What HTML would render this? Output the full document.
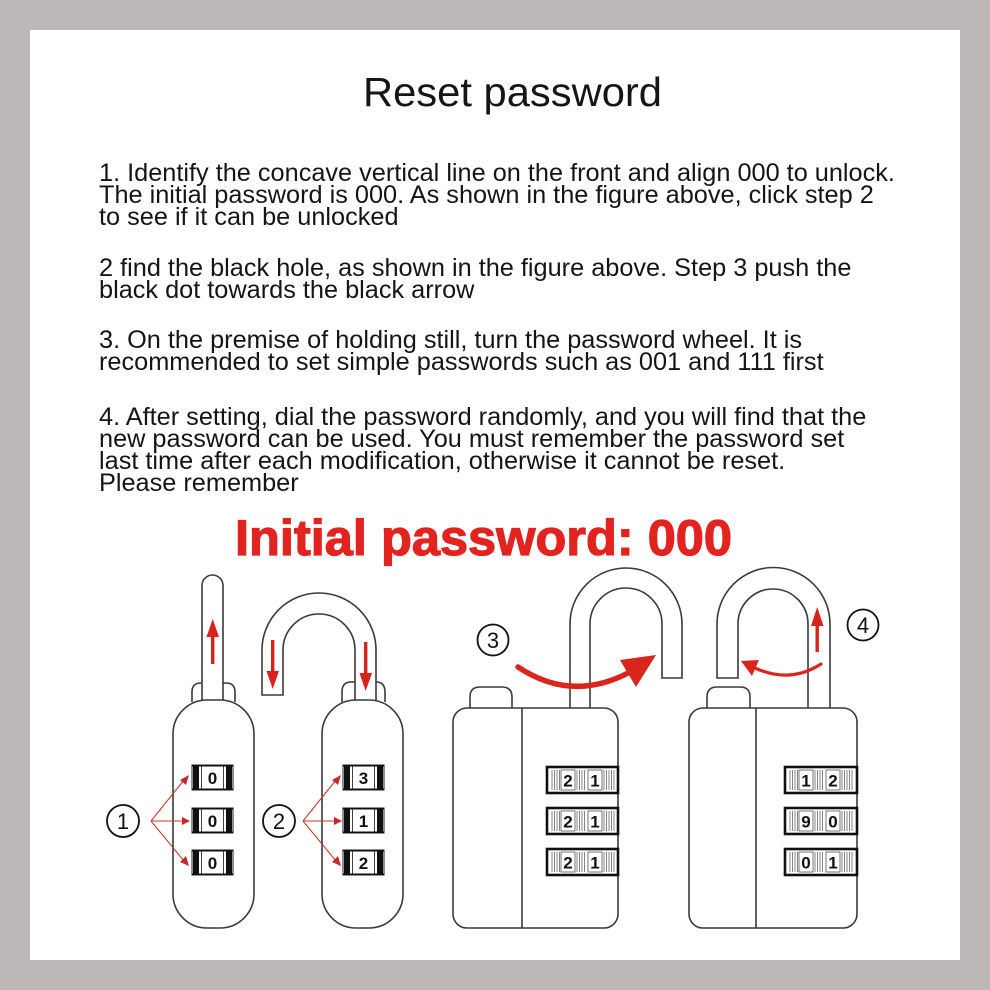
<!DOCTYPE html>
<html>
<head>
<meta charset="utf-8">
<style>
  html,body{margin:0;padding:0;background:#bcb8b7;}
  svg{display:block;}
  .t{font-family:"Liberation Sans",Arial,sans-serif;fill:#151515;}
</style>
</head>
<body>
<svg width="990" height="990" viewBox="0 0 990 990" xmlns="http://www.w3.org/2000/svg">
  <rect x="0" y="0" width="990" height="990" fill="#bcb8b7"/>
  <rect x="30" y="30" width="930" height="930" fill="#ffffff"/>

  <!-- Title -->
  <text class="t" x="363" y="106" font-size="41" textLength="299" lengthAdjust="spacingAndGlyphs">Reset password</text>

  <!-- Paragraphs -->
  <g class="t" font-size="25.3">
    <text class="t" x="99" y="181">1. Identify the concave vertical line on the front and align 000 to unlock.</text>
    <text class="t" x="99" y="203">The initial password is 000. As shown in the figure above, click step 2</text>
    <text class="t" x="99" y="225">to see if it can be unlocked</text>
    <text class="t" x="99" y="276">2 find the black hole, as shown in the figure above. Step 3 push the</text>
    <text class="t" x="99" y="298">black dot towards the black arrow</text>
    <text class="t" x="99" y="348">3. On the premise of holding still, turn the password wheel. It is</text>
    <text class="t" x="99" y="370">recommended to set simple passwords such as 001 and 111 first</text>
    <text class="t" x="99" y="425">4. After setting, dial the password randomly, and you will find that the</text>
    <text class="t" x="99" y="447">new password can be used. You must remember the password set</text>
    <text class="t" x="99" y="469">last time after each modification, otherwise it cannot be reset.</text>
    <text class="t" x="99" y="491">Please remember</text>
  </g>

  <!-- Red headline -->
  <text x="235" y="555" font-family="'Liberation Sans',Arial,sans-serif" font-weight="bold" font-size="50" fill="#e3231f" stroke="#e3231f" stroke-width="1.2" textLength="497" lengthAdjust="spacingAndGlyphs">Initial password: 000</text>

  <!-- ================= LOCK 1 ================= -->
  <g stroke="#3a3a3a" stroke-width="1.6" fill="#fff">
    <path d="M192,702 L192,692 Q192,683 201,683 L226,683 Q235,683 235,692 L235,702"/>
    <path d="M202,703 L202,585.5 A10.5,10.5 0 0 1 223,585.5 L223,703"/>
    <rect x="173" y="700" width="81" height="228" rx="34" ry="34"/>
  </g>
  <rect x="211" y="636" width="3.4" height="28" fill="#d8221c"/>
  <polygon points="212.7,619 206.5,637 219,637" fill="#d8221c"/>

  <!-- ================= LOCK 2 ================= -->
  <g stroke="#3a3a3a" stroke-width="1.6" fill="#fff">
    <path d="M342,702 L342,692 Q342,682 351,682 L376,682 Q385,682 385,692 L385,702"/>
    <path d="M355,703 L355,650 A36,36 0 0 0 283,650 L283,695 L262,695 L262,650 A57,57 0 0 1 376,650 L376,703"/>
    <rect x="322" y="700" width="81" height="228" rx="34" ry="34"/>
  </g>
  <rect x="271" y="640" width="3.4" height="32" fill="#d8221c"/>
  <polygon points="272.7,689 266.5,671 279,671" fill="#d8221c"/>
  <rect x="364" y="642" width="3.4" height="32" fill="#d8221c"/>
  <polygon points="365.7,691 359.5,673 372,673" fill="#d8221c"/>

  <!-- single-digit dials -->
  <g font-family="'Liberation Sans',Arial,sans-serif" font-weight="bold" font-size="17" text-anchor="middle" fill="#111">
    <g transform="translate(192,765)">
      <rect x="0" y="0" width="41" height="25" fill="#fff" stroke="#222" stroke-width="1"/>
      <rect x="1" y="0" width="6" height="25" fill="#111"/><rect x="34" y="0" width="6" height="25" fill="#111"/>
      <line x1="9.5" y1="0" x2="9.5" y2="25" stroke="#444"/><line x1="31.5" y1="0" x2="31.5" y2="25" stroke="#444"/>
      <rect x="0" y="0" width="41" height="1.5" fill="#111"/><rect x="0" y="23.5" width="41" height="1.5" fill="#111"/>
      <text x="20.5" y="19">0</text>
    </g>
    <g transform="translate(192,808)">
      <rect x="0" y="0" width="41" height="25" fill="#fff" stroke="#222" stroke-width="1"/>
      <rect x="1" y="0" width="6" height="25" fill="#111"/><rect x="34" y="0" width="6" height="25" fill="#111"/>
      <line x1="9.5" y1="0" x2="9.5" y2="25" stroke="#444"/><line x1="31.5" y1="0" x2="31.5" y2="25" stroke="#444"/>
      <rect x="0" y="0" width="41" height="1.5" fill="#111"/><rect x="0" y="23.5" width="41" height="1.5" fill="#111"/>
      <text x="20.5" y="19">0</text>
    </g>
    <g transform="translate(192,850)">
      <rect x="0" y="0" width="41" height="25" fill="#fff" stroke="#222" stroke-width="1"/>
      <rect x="1" y="0" width="6" height="25" fill="#111"/><rect x="34" y="0" width="6" height="25" fill="#111"/>
      <line x1="9.5" y1="0" x2="9.5" y2="25" stroke="#444"/><line x1="31.5" y1="0" x2="31.5" y2="25" stroke="#444"/>
      <rect x="0" y="0" width="41" height="1.5" fill="#111"/><rect x="0" y="23.5" width="41" height="1.5" fill="#111"/>
      <text x="20.5" y="19">0</text>
    </g>
    <g transform="translate(343,765)">
      <rect x="0" y="0" width="41" height="25" fill="#fff" stroke="#222" stroke-width="1"/>
      <rect x="1" y="0" width="6" height="25" fill="#111"/><rect x="34" y="0" width="6" height="25" fill="#111"/>
      <line x1="9.5" y1="0" x2="9.5" y2="25" stroke="#444"/><line x1="31.5" y1="0" x2="31.5" y2="25" stroke="#444"/>
      <rect x="0" y="0" width="41" height="1.5" fill="#111"/><rect x="0" y="23.5" width="41" height="1.5" fill="#111"/>
      <text x="20.5" y="19">3</text>
    </g>
    <g transform="translate(343,808)">
      <rect x="0" y="0" width="41" height="25" fill="#fff" stroke="#222" stroke-width="1"/>
      <rect x="1" y="0" width="6" height="25" fill="#111"/><rect x="34" y="0" width="6" height="25" fill="#111"/>
      <line x1="9.5" y1="0" x2="9.5" y2="25" stroke="#444"/><line x1="31.5" y1="0" x2="31.5" y2="25" stroke="#444"/>
      <rect x="0" y="0" width="41" height="1.5" fill="#111"/><rect x="0" y="23.5" width="41" height="1.5" fill="#111"/>
      <text x="20.5" y="19">1</text>
    </g>
    <g transform="translate(343,850)">
      <rect x="0" y="0" width="41" height="25" fill="#fff" stroke="#222" stroke-width="1"/>
      <rect x="1" y="0" width="6" height="25" fill="#111"/><rect x="34" y="0" width="6" height="25" fill="#111"/>
      <line x1="9.5" y1="0" x2="9.5" y2="25" stroke="#444"/><line x1="31.5" y1="0" x2="31.5" y2="25" stroke="#444"/>
      <rect x="0" y="0" width="41" height="1.5" fill="#111"/><rect x="0" y="23.5" width="41" height="1.5" fill="#111"/>
      <text x="20.5" y="19">2</text>
    </g>
  </g>

  <!-- fan arrows -->
  <g stroke="#c0392b" stroke-width="1" fill="none">
    <line x1="151" y1="821" x2="184" y2="780"/>
    <line x1="151" y1="821" x2="183" y2="821"/>
    <line x1="151" y1="821" x2="184" y2="861"/>
    <line x1="303" y1="821" x2="336" y2="780"/>
    <line x1="303" y1="821" x2="335" y2="821"/>
    <line x1="303" y1="821" x2="336" y2="861"/>
  </g>
  <g fill="#c62828">
    <polygon points="189,775 180,780 186,785"/>
    <polygon points="190,821 182,817 182,825"/>
    <polygon points="189,866 186,856 180,862"/>
    <polygon points="341,775 332,780 338,785"/>
    <polygon points="342,821 334,817 334,825"/>
    <polygon points="341,866 338,856 332,862"/>
  </g>

  <!-- circled numbers -->
  <g stroke="#111" stroke-width="1.8" fill="none">
    <circle cx="123" cy="821" r="16"/>
    <circle cx="279" cy="821" r="16"/>
    <circle cx="493" cy="640" r="15.5"/>
    <circle cx="863" cy="625" r="15.5"/>
  </g>
  <g font-family="'Liberation Sans',Arial,sans-serif" font-size="22" text-anchor="middle" fill="#111">
    <text x="123" y="829">1</text>
    <text x="279" y="829">2</text>
    <text x="493" y="648">3</text>
    <text x="863" y="633">4</text>
  </g>

  <!-- ================= LOCK 3 ================= -->
  <g stroke="#3a3a3a" stroke-width="1.6" fill="#fff">
    <path d="M470,709 L470,697 Q470,687 480,687 L502,687 Q512,687 512,697 L512,709"/>
    <path d="M570,709 L570,624 A56,56 0 0 1 682,624 L682,678 L662,678 L662,624 A36,36 0 0 0 590,624 L590,709"/>
    <rect x="453" y="708" width="165" height="220" rx="14" ry="14"/>
    <line x1="522" y1="708" x2="522" y2="928"/>
  </g>

  <!-- ================= LOCK 4 ================= -->
  <g stroke="#3a3a3a" stroke-width="1.6" fill="#fff">
    <path d="M707,709 L707,697 Q707,687 717,687 L740,687 Q750,687 750,697 L750,709"/>
    <path d="M717,678 L717,624 A56.5,56.5 0 0 1 830,624 L830,709 L808,709 L808,624 A35,35 0 0 0 738,624 L738,678 Z"/>
    <rect x="689" y="708" width="168" height="220" rx="14" ry="14"/>
    <line x1="756" y1="708" x2="756" y2="928"/>
  </g>

  <!-- double-digit dials -->
  <g font-family="'Liberation Sans',Arial,sans-serif" font-weight="bold" font-size="17" text-anchor="middle" fill="#111">
    <g transform="translate(547,767)">
      <rect x="0" y="0" width="71" height="26" fill="#fff" stroke="#111" stroke-width="2.6"/>
      <g stroke="#777" stroke-width="0.9"><line x1="5" y1="3" x2="5" y2="23"/><line x1="7.5" y1="3" x2="7.5" y2="23"/><line x1="10" y1="3" x2="10" y2="23"/><line x1="12.5" y1="3" x2="12.5" y2="23"/>
      <line x1="30" y1="3" x2="30" y2="23"/><line x1="32.5" y1="3" x2="32.5" y2="23"/><line x1="35" y1="3" x2="35" y2="23"/><line x1="37.5" y1="3" x2="37.5" y2="23"/>
      <line x1="57" y1="3" x2="57" y2="23"/><line x1="59.5" y1="3" x2="59.5" y2="23"/><line x1="62" y1="3" x2="62" y2="23"/><line x1="64.5" y1="3" x2="64.5" y2="23"/><line x1="67" y1="3" x2="67" y2="23"/></g>
      <rect x="14" y="3" width="14" height="20" fill="#fff" stroke="#555" stroke-width="0.8"/>
      <rect x="41" y="3" width="14" height="20" fill="#fff" stroke="#555" stroke-width="0.8"/>
      <text x="21" y="19.5">2</text><text x="48" y="19.5">1</text>
    </g>
    <g transform="translate(547,808)">
      <rect x="0" y="0" width="71" height="26" fill="#fff" stroke="#111" stroke-width="2.6"/>
      <g stroke="#777" stroke-width="0.9"><line x1="5" y1="3" x2="5" y2="23"/><line x1="7.5" y1="3" x2="7.5" y2="23"/><line x1="10" y1="3" x2="10" y2="23"/><line x1="12.5" y1="3" x2="12.5" y2="23"/>
      <line x1="30" y1="3" x2="30" y2="23"/><line x1="32.5" y1="3" x2="32.5" y2="23"/><line x1="35" y1="3" x2="35" y2="23"/><line x1="37.5" y1="3" x2="37.5" y2="23"/>
      <line x1="57" y1="3" x2="57" y2="23"/><line x1="59.5" y1="3" x2="59.5" y2="23"/><line x1="62" y1="3" x2="62" y2="23"/><line x1="64.5" y1="3" x2="64.5" y2="23"/><line x1="67" y1="3" x2="67" y2="23"/></g>
      <rect x="14" y="3" width="14" height="20" fill="#fff" stroke="#555" stroke-width="0.8"/>
      <rect x="41" y="3" width="14" height="20" fill="#fff" stroke="#555" stroke-width="0.8"/>
      <text x="21" y="19.5">2</text><text x="48" y="19.5">1</text>
    </g>
    <g transform="translate(547,849)">
      <rect x="0" y="0" width="71" height="26" fill="#fff" stroke="#111" stroke-width="2.6"/>
      <g stroke="#777" stroke-width="0.9"><line x1="5" y1="3" x2="5" y2="23"/><line x1="7.5" y1="3" x2="7.5" y2="23"/><line x1="10" y1="3" x2="10" y2="23"/><line x1="12.5" y1="3" x2="12.5" y2="23"/>
      <line x1="30" y1="3" x2="30" y2="23"/><line x1="32.5" y1="3" x2="32.5" y2="23"/><line x1="35" y1="3" x2="35" y2="23"/><line x1="37.5" y1="3" x2="37.5" y2="23"/>
      <line x1="57" y1="3" x2="57" y2="23"/><line x1="59.5" y1="3" x2="59.5" y2="23"/><line x1="62" y1="3" x2="62" y2="23"/><line x1="64.5" y1="3" x2="64.5" y2="23"/><line x1="67" y1="3" x2="67" y2="23"/></g>
      <rect x="14" y="3" width="14" height="20" fill="#fff" stroke="#555" stroke-width="0.8"/>
      <rect x="41" y="3" width="14" height="20" fill="#fff" stroke="#555" stroke-width="0.8"/>
      <text x="21" y="19.5">2</text><text x="48" y="19.5">1</text>
    </g>

    <g transform="translate(785,767)">
      <rect x="0" y="0" width="72" height="26" fill="#fff" stroke="#111" stroke-width="2.6"/>
      <g stroke="#777" stroke-width="0.9"><line x1="5" y1="3" x2="5" y2="23"/><line x1="7.5" y1="3" x2="7.5" y2="23"/><line x1="10" y1="3" x2="10" y2="23"/><line x1="12.5" y1="3" x2="12.5" y2="23"/>
      <line x1="30" y1="3" x2="30" y2="23"/><line x1="32.5" y1="3" x2="32.5" y2="23"/><line x1="35" y1="3" x2="35" y2="23"/><line x1="37.5" y1="3" x2="37.5" y2="23"/>
      <line x1="57" y1="3" x2="57" y2="23"/><line x1="59.5" y1="3" x2="59.5" y2="23"/><line x1="62" y1="3" x2="62" y2="23"/><line x1="64.5" y1="3" x2="64.5" y2="23"/><line x1="67" y1="3" x2="67" y2="23"/></g>
      <rect x="14" y="3" width="14" height="20" fill="#fff" stroke="#555" stroke-width="0.8"/>
      <rect x="41" y="3" width="14" height="20" fill="#fff" stroke="#555" stroke-width="0.8"/>
      <text x="21" y="19.5">1</text><text x="48" y="19.5">2</text>
    </g>
    <g transform="translate(785,808)">
      <rect x="0" y="0" width="72" height="26" fill="#fff" stroke="#111" stroke-width="2.6"/>
      <g stroke="#777" stroke-width="0.9"><line x1="5" y1="3" x2="5" y2="23"/><line x1="7.5" y1="3" x2="7.5" y2="23"/><line x1="10" y1="3" x2="10" y2="23"/><line x1="12.5" y1="3" x2="12.5" y2="23"/>
      <line x1="30" y1="3" x2="30" y2="23"/><line x1="32.5" y1="3" x2="32.5" y2="23"/><line x1="35" y1="3" x2="35" y2="23"/><line x1="37.5" y1="3" x2="37.5" y2="23"/>
      <line x1="57" y1="3" x2="57" y2="23"/><line x1="59.5" y1="3" x2="59.5" y2="23"/><line x1="62" y1="3" x2="62" y2="23"/><line x1="64.5" y1="3" x2="64.5" y2="23"/><line x1="67" y1="3" x2="67" y2="23"/></g>
      <rect x="14" y="3" width="14" height="20" fill="#fff" stroke="#555" stroke-width="0.8"/>
      <rect x="41" y="3" width="14" height="20" fill="#fff" stroke="#555" stroke-width="0.8"/>
      <text x="21" y="19.5">9</text><text x="48" y="19.5">0</text>
    </g>
    <g transform="translate(785,849)">
      <rect x="0" y="0" width="72" height="26" fill="#fff" stroke="#111" stroke-width="2.6"/>
      <g stroke="#777" stroke-width="0.9"><line x1="5" y1="3" x2="5" y2="23"/><line x1="7.5" y1="3" x2="7.5" y2="23"/><line x1="10" y1="3" x2="10" y2="23"/><line x1="12.5" y1="3" x2="12.5" y2="23"/>
      <line x1="30" y1="3" x2="30" y2="23"/><line x1="32.5" y1="3" x2="32.5" y2="23"/><line x1="35" y1="3" x2="35" y2="23"/><line x1="37.5" y1="3" x2="37.5" y2="23"/>
      <line x1="57" y1="3" x2="57" y2="23"/><line x1="59.5" y1="3" x2="59.5" y2="23"/><line x1="62" y1="3" x2="62" y2="23"/><line x1="64.5" y1="3" x2="64.5" y2="23"/><line x1="67" y1="3" x2="67" y2="23"/></g>
      <rect x="14" y="3" width="14" height="20" fill="#fff" stroke="#555" stroke-width="0.8"/>
      <rect x="41" y="3" width="14" height="20" fill="#fff" stroke="#555" stroke-width="0.8"/>
      <text x="21" y="19.5">0</text><text x="48" y="19.5">1</text>
    </g>
  </g>

  <!-- Lock 3 big red curved arrow -->
  <path d="M518,667 Q572,703 630,672" stroke="#d9261c" stroke-width="5.5" fill="none" stroke-linecap="round"/>
  <polygon points="656,655 620,660 636,687" fill="#d9261c"/>

  <!-- Lock 4 red arrows -->
  <rect x="815.5" y="625" width="3.4" height="27" fill="#d8221c"/>
  <polygon points="817.2,607 811,626 823.5,626" fill="#d8221c"/>
  <path d="M821,664 Q790,684 755,668" stroke="#d9261c" stroke-width="3.2" fill="none" stroke-linecap="round"/>
  <polygon points="741,661 759,660 752,676" fill="#d9261c"/>
</svg>
</body>
</html>
